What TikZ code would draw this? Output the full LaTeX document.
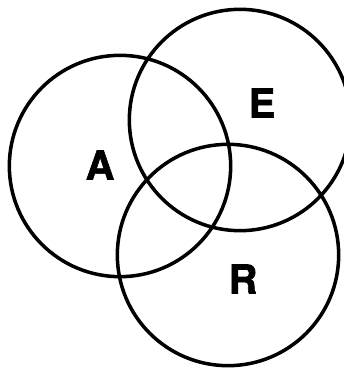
\documentclass[tikz,border=0pt]{standalone}
\usepackage{fontspec}
\newfontfamily\lblfont[BoldFeatures={FakeBold=1.5}]{TeX Gyre Heros}
\begin{document}
\begin{tikzpicture}[x=0.03cm,y=-0.03cm,
  ring/.style={draw,circle,line width=3pt,minimum size=6.64cm,inner sep=0pt},
  lbl/.style={font=\lblfont\bfseries\fontsize{34}{36}\selectfont,inner sep=0pt}]
\clip (0,0) rectangle (344,370);
\useasboundingbox (0,0) rectangle (344,370);
\node[ring] (ringA) at (120,166) {};
\node[ring] (ringE) at (240,120) {};
\node[ring] (ringR) at (228,255) {};
\node[lbl] (labA) at (100,165) {A};
\node[lbl] (labE) at (262,103) {E};
\node[lbl] (labR) at (243,279) {R};
\end{tikzpicture}
\end{document}
